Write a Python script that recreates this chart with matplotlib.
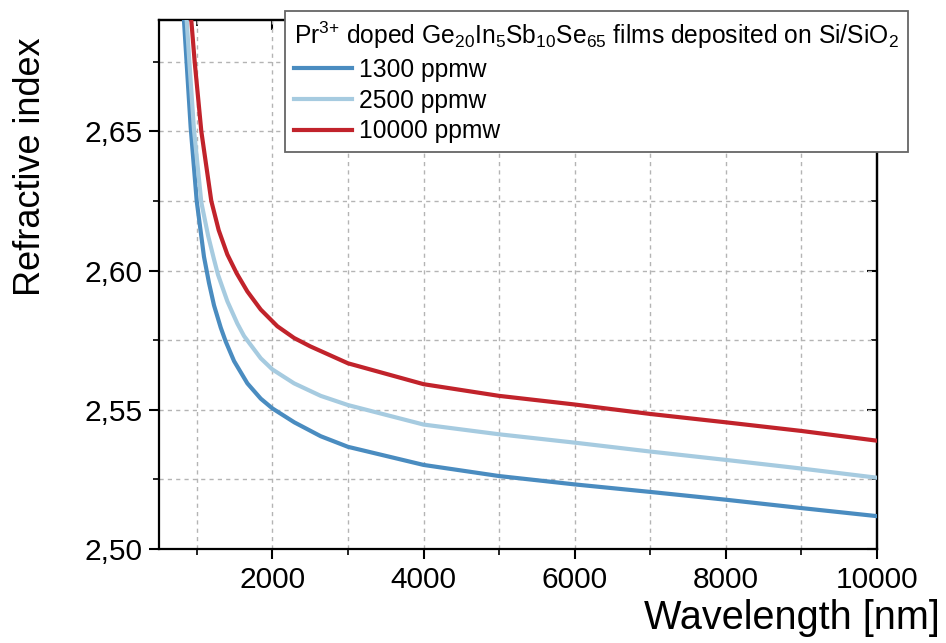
import matplotlib
matplotlib.use('Agg')
import matplotlib.pyplot as plt
from matplotlib.ticker import MultipleLocator, FuncFormatter

plt.rcParams['font.family'] = ['Liberation Sans', 'DejaVu Sans']
plt.rcParams['mathtext.fontset'] = 'custom'
plt.rcParams['mathtext.rm'] = 'Liberation Sans'
plt.rcParams['mathtext.default'] = 'regular'

# values (wavelength in nm, refractive index)
wl_1300 = [830, 866, 919, 999, 1095, 1162, 1228, 1317, 1383, 1493, 1669, 1846, 2000,
           2290, 2640, 3000, 4000, 5000, 6000, 7000, 8000, 9000, 10000]
n_1300 = [2.690, 2.6745, 2.6515, 2.6250, 2.6050, 2.5955, 2.5875, 2.5795, 2.5745, 2.5675, 2.5595, 2.5540, 2.5505,
          2.5455, 2.5405, 2.5367, 2.5302, 2.5262, 2.5232, 2.5205, 2.5177, 2.5147, 2.5118]

wl_2500 = [866, 901, 963, 1060, 1150, 1228, 1281, 1404, 1536, 1625, 1846, 2000,
           2287, 2640, 3000, 4000, 5000, 6000, 7000, 8000, 9000, 10000]
n_2500 = [2.690, 2.6752, 2.6505, 2.6245, 2.6125, 2.6040, 2.5985, 2.5890, 2.5810, 2.5765, 2.5685, 2.5645,
          2.5595, 2.5550, 2.5517, 2.5447, 2.5412, 2.5382, 2.5350, 2.5320, 2.5289, 2.5256]

wl_10000 = [927, 972, 1060, 1192, 1290, 1404, 1528, 1669, 1846, 2066, 2287, 2500,
            3000, 4000, 5000, 6000, 7000, 8000, 9000, 10000]
n_10000 = [2.690, 2.675, 2.650, 2.625, 2.6145, 2.6058, 2.5990, 2.5925, 2.5860, 2.5800, 2.5758, 2.5728,
           2.5667, 2.5592, 2.5550, 2.5519, 2.5485, 2.5455, 2.5424, 2.5389]

labels = ['1300 ppmw', '2500 ppmw', '10000 ppmw']
colors = ['#4a8cc0', '#a6cbe0', '#c1232b']

fig = plt.figure(figsize=(9.46, 6.43), dpi=100)
ax = fig.add_axes([159 / 946, 1 - 549 / 643, (877 - 159) / 946, (549 - 20) / 643])

for wl, n, lab, c in zip([wl_1300, wl_2500, wl_10000], [n_1300, n_2500, n_10000], labels, colors):
    ax.plot(wl, n, color=c, lw=3.0, label=lab, zorder=3, solid_joinstyle='round')

ax.set_xlim(500, 10000)
ax.set_ylim(2.50, 2.69)
ax.xaxis.set_major_locator(MultipleLocator(2000))
ax.xaxis.set_minor_locator(MultipleLocator(1000))
ax.yaxis.set_major_locator(MultipleLocator(0.05))
ax.yaxis.set_minor_locator(MultipleLocator(0.025))
ax.yaxis.set_major_formatter(FuncFormatter(lambda v, p: f'{v:.2f}'.replace('.', ',')))

ax.grid(True, which='both', color='#b4b4b4', ls=(0, (3, 3)), lw=1.0, zorder=0)
ax.tick_params(which='major', direction='out', length=7, width=1.5, labelsize=21.5, pad=5)
ax.tick_params(which='minor', direction='out', length=4, width=1.2)
for s in ax.spines.values():
    s.set_linewidth(1.6)

# inward ticks on top and right
top = ax.secondary_xaxis('top')
top.xaxis.set_major_locator(MultipleLocator(2000))
top.xaxis.set_minor_locator(MultipleLocator(1000))
top.tick_params(which='major', direction='in', length=7, width=1.5, labeltop=False)
top.tick_params(which='minor', direction='in', length=4, width=1.2)
right = ax.secondary_yaxis('right')
right.yaxis.set_major_locator(MultipleLocator(0.05))
right.yaxis.set_minor_locator(MultipleLocator(0.025))
right.tick_params(which='major', direction='in', length=7, width=1.5, labelright=False)
right.tick_params(which='minor', direction='in', length=4, width=1.2)
for sec in (top, right):
    for s in sec.spines.values():
        s.set_linewidth(1.6)

fig.text(30 / 946, 1 - 167 / 643, 'Refractive index', rotation=90, fontsize=26,
         ha='center', va='center')
fig.text(940 / 946, 6 / 643, 'Wavelength [nm]', fontsize=28.5, ha='right', va='bottom')

leg = ax.legend(title=r'Pr$^{3{+}}$ doped Ge$_{20}$In$_5$Sb$_{10}$Se$_{65}$ films deposited on Si/SiO$_2$',
                loc='upper left', bbox_to_anchor=(285 / 946, 1 - 11 / 643),
                bbox_transform=fig.transFigure, borderaxespad=0, fontsize=17.7,
                title_fontsize=17.7, alignment='left', frameon=True, fancybox=False,
                framealpha=1, edgecolor='#666666', handlelength=2.35, handletextpad=0.3,
                labelspacing=0.27, borderpad=0.36)
leg.get_frame().set_linewidth(1.3)
leg.set_zorder(10)

fig.savefig('out.png', dpi=100)
